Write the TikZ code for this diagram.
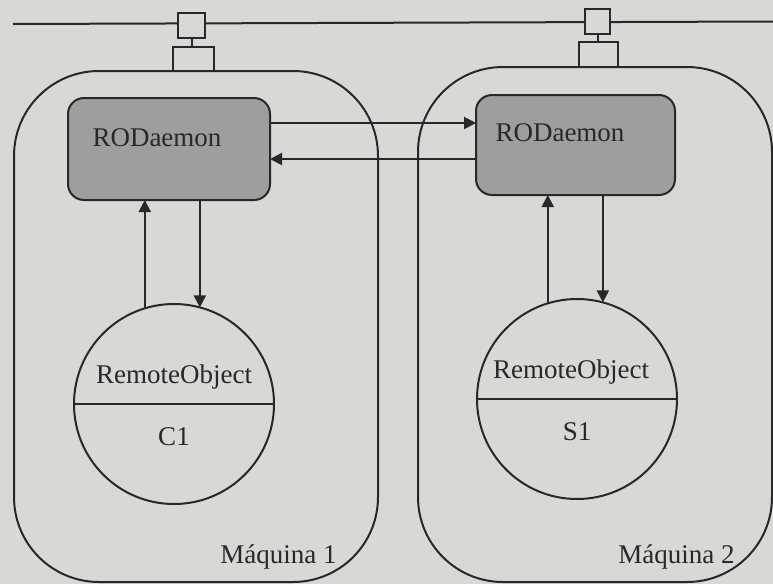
\documentclass[tikz,border=0pt]{standalone}
\usepackage{fontspec}
\setmainfont{Liberation Serif}
\usetikzlibrary{arrows.meta,calc}
\definecolor{bgc}{RGB}{216,216,212}
\definecolor{daemonfill}{RGB}{158,158,158}
\definecolor{inkc}{RGB}{40,40,40}
\tikzset{
  ink/.style={draw=inkc, line width=2pt},
  daemonbox/.style={ink, fill=daemonfill, rounded corners=16pt, minimum width=202pt, minimum height=102pt, inner sep=0pt, outer sep=0pt},
  objcircle/.style={ink, circle, minimum size=200pt, inner sep=0pt, outer sep=0pt},
  machinebox/.style={ink, rounded corners=85pt, inner sep=0pt, outer sep=0pt},
  portbox/.style={ink, fill=bgc, inner sep=0pt, outer sep=0pt},
  txt/.style={text=inkc, font=\fontsize{27}{30}\selectfont, inner sep=0pt},
  arr/.style={ink, -{Triangle[length=12pt,width=12pt]}}
}
\begin{document}
\begin{tikzpicture}[x=1pt,y=-1pt]
\useasboundingbox (0,0) rectangle (773,584);
\fill[bgc] (0,0) rectangle (773,584);
% bus
\coordinate (busL) at (13,24);
\coordinate (busR) at (773,21.5);
\draw[ink] (busL) -- (busR);
% machines
\node[machinebox, minimum width=364pt, minimum height=511pt] (m1) at (196,326.5) {};
\node[machinebox, minimum width=354pt, minimum height=515pt] (m2) at (595,324.5) {};
% ports
\node[portbox, minimum width=27pt, minimum height=25pt] (s1) at (191.5,25.5) {};
\node[portbox, minimum width=41pt, minimum height=24pt] (b1) at (193.5,59) {};
\draw[ink] (s1.south) -- (s1.south |- b1.north);
\node[portbox, minimum width=25pt, minimum height=25pt] (s2) at (597.5,21.5) {};
\node[portbox, minimum width=39pt, minimum height=25pt] (b2) at (598.5,54.5) {};
\draw[ink] (s2.south) -- (s2.south |- b2.north);
% daemons
\node[daemonbox] (d1) at (169,149) {};
\node[txt] (d1t) at (157,138) {RODaemon};
\node[daemonbox, minimum width=199pt, minimum height=100pt] (d2) at (575.5,145) {};
\node[txt] (d2t) at (560,133) {RODaemon};
% inter-daemon arrows
\draw[arr] (d1.east |- 0,123) -- (d2.west |- 0,123);
\draw[arr] (d2.west |- 0,159) -- (d1.east |- 0,159);
% remote objects
\node[objcircle] (c1) at (174,404) {};
\draw[ink] (c1.west) -- (c1.east);
\node[txt] (c1a) at (174,377) {RemoteObject};
\node[txt] (c1b) at (174,437) {C1};
\node[objcircle] (c2) at (577,399) {};
\draw[ink] (c2.west) -- (c2.east);
\node[txt] (c2a) at (571,372) {RemoteObject};
\node[txt] (c2b) at (577,432) {S1};
% vertical arrows
\draw[arr] (c1.107) -- (c1.107 |- d1.south);
\draw[arr] (d1.south -| c1.75) -- (c1.75);
\draw[arr] (c2.107) -- (c2.107 |- d2.south);
\draw[arr] (d2.south -| c2.75) -- (c2.75);
% machine labels
\node[txt] (l1) at (278.5,557) {Máquina 1};
\node[txt] (l2) at (676.5,557) {Máquina 2};
\end{tikzpicture}
\end{document}
